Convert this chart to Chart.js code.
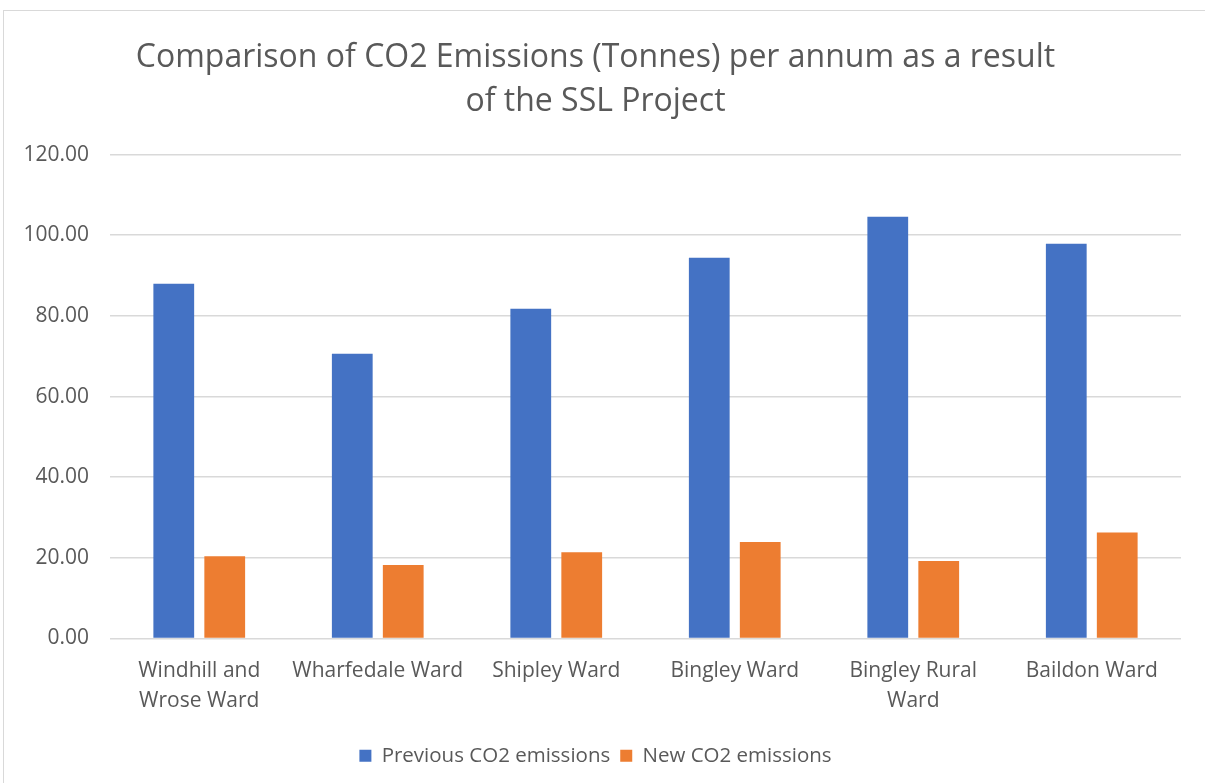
<!DOCTYPE html>
<html>
<head>
<meta charset="utf-8">
<script src="https://cdn.jsdelivr.net/npm/chart.js@4/dist/chart.umd.min.js"></script>
<style>
  html, body { margin: 0; padding: 0; background: #fff; }
  #frame { position: absolute; left: 3px; top: 10px; width: 1220px; height: 800px; border: 1px solid #d9d9d9; box-sizing: border-box; }
  #wrap { position: absolute; left: 0; top: 0; width: 1205px; height: 783px; }
</style>
</head>
<body>
<div id="frame"></div>
<div id="wrap"><canvas id="co2Chart"></canvas></div>
<script>
const wards = [['Windhill and', 'Wrose Ward'], 'Wharfedale Ward', 'Shipley Ward', 'Bingley Ward', ['Bingley Rural', 'Ward'], 'Baildon Ward'];
const previousCO2 = [88.0, 70.6, 81.8, 94.4, 104.6, 97.9];
const newCO2 = [20.4, 18.2, 21.4, 23.9, 19.2, 26.3];
const titleLines = ['Comparison of CO2 Emissions (Tonnes) per annum as a result', 'of the SSL Project'];

const textGrey = '#595959';
const gridGrey = '#d9d9d9';
Chart.defaults.font.family = "'Open Sans', sans-serif";
Chart.defaults.color = textGrey;

const ctx = document.getElementById('co2Chart').getContext('2d');
new Chart(ctx, {
    type: 'bar',
    data: {
        labels: wards,
        datasets: [
            { label: 'Previous CO2 emissions', data: previousCO2, backgroundColor: '#4472c4' },
            { label: 'New CO2 emissions', data: newCO2, backgroundColor: '#ed7d31' }
        ]
    },
    options: {
        responsive: true,
        maintainAspectRatio: false,
        animation: false,
        categoryPercentage: 0.571,
        barPercentage: 0.8,
        layout: { padding: { top: 35, left: 10, right: 24, bottom: 7 } },
        plugins: {
            title: {
                display: true,
                text: titleLines,
                color: textGrey,
                font: { size: 32, weight: 'normal', lineHeight: 1.4 },
                padding: { top: 0, bottom: 30 }
            },
            legend: {
                position: 'bottom',
                labels: { boxWidth: 12, boxHeight: 12, font: { size: 20.5 }, padding: 10, color: textGrey }
            },
            tooltip: { enabled: false }
        },
        scales: {
            x: {
                grid: { display: false, drawTicks: false },
                border: { display: false },
                ticks: { font: { size: 21, lineHeight: 1.4 }, padding: 18, maxRotation: 0, autoSkip: false },
                afterFit: s => { s.height = 97; }
            },
            y: {
                min: 0,
                max: 120,
                grid: { color: gridGrey, lineWidth: 1.5, drawTicks: false },
                border: { display: false },
                ticks: { stepSize: 20, font: { size: 21 }, padding: 21, callback: v => v.toFixed(2) },
                afterFit: s => { s.width = 100; }
            }
        }
    }
});
</script>
</body>
</html>
